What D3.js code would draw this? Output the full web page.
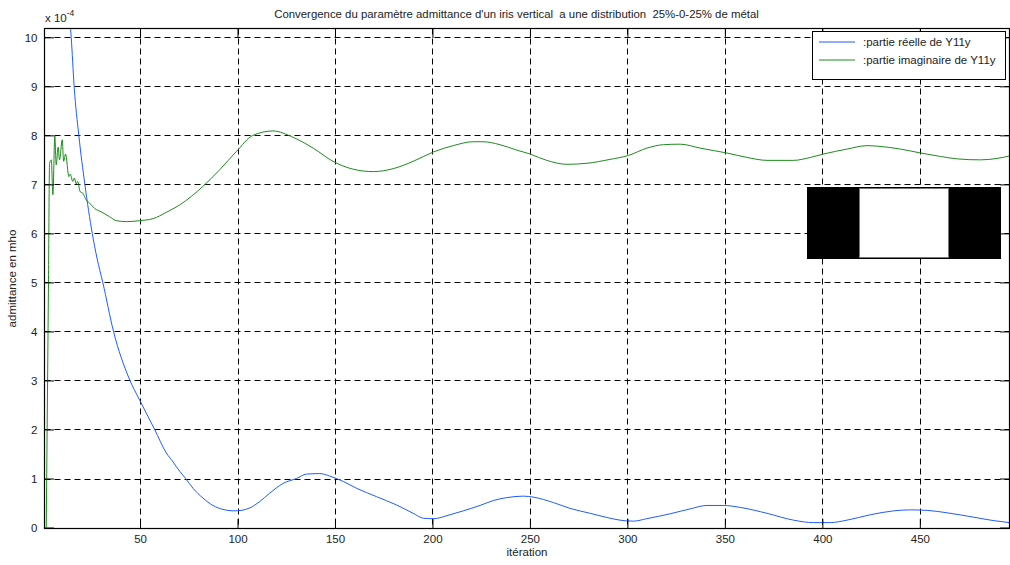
<!DOCTYPE html>
<html>
<head>
<meta charset="utf-8">
<script src="https://cdn.jsdelivr.net/npm/d3@7"></script>
<style>
  html, body { margin: 0; padding: 0; background: #fff; }
  svg { display: block; font-family: "Liberation Sans", Arial, Helvetica, sans-serif; }
</style>
</head>
<body>
<svg id="chart" width="1010" height="565"></svg>
<script>
// Admittance convergence (units of 1e-4 mho) versus iteration
const titleText = "Convergence du paramètre admittance d'un iris vertical  a une distribution  25%-0-25% de métal";
const xLabel = "itération";
const yLabel = "admittance en mho";
const seriesNames = [":partie réelle de Y11y", ":partie imaginaire de Y11y"];
const xTicks = [50, 100, 150, 200, 250, 300, 350, 400, 450];
const yTicks = [0, 1, 2, 3, 4, 5, 6, 7, 8, 9, 10];

// real part
const reIter = [12, 13.5, 14.7, 16.2, 18.6, 21.7, 25.5, 27.9, 30.9, 36.4, 44.3, 49.8, 57.5, 63.5, 66.9, 70.3, 73.4,
  77.2, 82.3, 87.4, 92.5, 97.7, 102, 106.3, 111.4, 116.5, 123.4, 130.2, 135.4, 142.2, 147.3, 154.2, 161.1,
  171.3, 181.6, 190.1, 195.3, 200.4, 209, 215.8, 224.4, 231.2, 238.1, 246.6, 251.7, 262, 270.6, 280.9,
  290, 296.2, 303.1, 309.9, 321.9, 332.2, 340.8, 349.3, 357.9, 371.6, 385.2, 395.5, 404.1, 412.6, 424.6,
  436.6, 445.2, 453.7, 464, 477.7, 488, 496];
const reVal = [11.3, 10.6, 10.0, 9.0, 8.0, 7.0, 6.0, 5.5, 5.0, 4.0, 3.05, 2.6, 2.0, 1.52, 1.34, 1.15, 1.0,
  0.80, 0.60, 0.45, 0.37, 0.34, 0.35, 0.40, 0.53, 0.70, 0.90, 1.00, 1.09, 1.10, 1.05, 0.94, 0.80,
  0.63, 0.46, 0.29, 0.19, 0.18, 0.26, 0.34, 0.45, 0.55, 0.61, 0.64, 0.62, 0.51, 0.39, 0.29,
  0.20, 0.15, 0.13, 0.18, 0.28, 0.38, 0.45, 0.45, 0.41, 0.29, 0.15, 0.10, 0.10, 0.15, 0.26,
  0.34, 0.36, 0.35, 0.30, 0.21, 0.14, 0.10];

// imaginary part
const imIter = [1.9, 3.0, 3.6, 4.5, 5.3, 6.3, 7.0, 8.0, 8.7, 10.1, 10.8, 11.8, 13.5, 14.2, 15.5, 16.3, 17.3, 18.0,
  19.3, 20.7, 22.4, 24.1, 26.7, 30.1, 34.4, 37.8, 43, 49.8, 56.6, 63.5, 70.3, 82.3, 90.9, 99.4, 107.9,
  118.2, 128.5, 138.8, 149, 159.3, 169.6, 179.8, 190.1, 200.4, 210.6, 220.9, 226, 234.6, 243.2, 250,
  258.6, 268.9, 279.2, 291.1, 300.5, 310, 318.5, 327.1, 337.3, 351, 361.3, 371.6, 385.3, 393.8, 400.7,
  412.6, 422.9, 428.1, 440.1, 450.4, 460.6, 469.2, 481.1, 489.7, 496];
const imVal = [0.0, 4.8, 7.43, 7.5, 6.79, 7.99, 7.40, 7.76, 7.50, 7.91, 7.47, 7.62, 7.16, 7.21, 7.06, 7.13, 7.01, 7.06,
  6.85, 6.82, 6.68, 6.62, 6.51, 6.44, 6.34, 6.26, 6.24, 6.26, 6.30, 6.43, 6.58, 6.96, 7.30, 7.67, 8.00,
  8.09, 7.96, 7.74, 7.47, 7.31, 7.26, 7.32, 7.47, 7.66, 7.79, 7.87, 7.87, 7.81, 7.70, 7.62,
  7.49, 7.41, 7.43, 7.51, 7.59, 7.74, 7.81, 7.82, 7.74, 7.64, 7.55, 7.49, 7.49, 7.55, 7.62,
  7.72, 7.79, 7.78, 7.72, 7.64, 7.57, 7.52, 7.50, 7.53, 7.58];

const colors = ["#1f5cff", "#1e8a1e"];

const svg = d3.select("#chart");
const plot = { left: 44.5, right: 1009.5, top: 28.5, bottom: 528.5 };

const x = d3.scaleLinear().domain([1, 496]).range([plot.left, plot.right]);
const y = d3.scaleLinear().domain([-0.02, 10.18]).range([plot.bottom, plot.top]);

svg.append("defs").append("clipPath").attr("id", "plotClip")
  .append("rect")
  .attr("x", plot.left).attr("y", plot.top)
  .attr("width", plot.right - plot.left).attr("height", plot.bottom - plot.top);

// grid
const grid = svg.append("g").attr("stroke", "#000").attr("stroke-width", 1).attr("stroke-dasharray", "6,4");
grid.selectAll(".vg").data(xTicks).join("line")
  .attr("x1", d => Math.round(x(d)) + 0.5).attr("x2", d => Math.round(x(d)) + 0.5)
  .attr("y1", plot.top).attr("y2", plot.bottom);
grid.selectAll(".hg").data(yTicks).join("line")
  .attr("y1", d => Math.round(y(d)) + 0.5).attr("y2", d => Math.round(y(d)) + 0.5)
  .attr("x1", plot.left).attr("x2", plot.right);

// data lines
const lineGen = d3.line().x(d => x(d[0])).y(d => y(d[1])).curve(d3.curveMonotoneX);
const series = [d3.zip(reIter, reVal), d3.zip(imIter, imVal)];
svg.append("g").attr("clip-path", "url(#plotClip)")
  .selectAll("path").data(series).join("path")
  .attr("d", lineGen)
  .attr("fill", "none")
  .attr("stroke", (d, i) => colors[i])
  .attr("stroke-width", 1);

// axes with inward ticks on all four sides
const tickLen = 9.5;
const fmt = d3.format("d");
const xb = svg.append("g").attr("transform", `translate(0,${plot.bottom})`)
  .call(d3.axisBottom(x).tickValues(xTicks).tickFormat(fmt).tickSizeInner(-tickLen).tickSizeOuter(0).tickPadding(6));
const xt = svg.append("g").attr("transform", `translate(0,${plot.top})`)
  .call(d3.axisTop(x).tickValues(xTicks).tickFormat("").tickSizeInner(-tickLen).tickSizeOuter(0));
const yl = svg.append("g").attr("transform", `translate(${plot.left},0)`)
  .call(d3.axisLeft(y).tickValues(yTicks).tickFormat(fmt).tickSizeInner(-tickLen).tickSizeOuter(0).tickPadding(7));
const yr = svg.append("g").attr("transform", `translate(${plot.right},0)`)
  .call(d3.axisRight(y).tickValues(yTicks).tickFormat("").tickSizeInner(-tickLen).tickSizeOuter(0));
[xb, xt, yl, yr].forEach(g => {
  g.select(".domain").remove();
  g.selectAll(".tick line").attr("stroke", "#000");
  g.selectAll("text").attr("fill", "#222").attr("font-size", 11.5)
    .attr("font-family", "'Liberation Sans', Arial, sans-serif");
});
svg.append("rect")
  .attr("x", plot.left).attr("y", plot.top)
  .attr("width", plot.right - plot.left).attr("height", plot.bottom - plot.top)
  .attr("fill", "none").attr("stroke", "#000").attr("stroke-width", 1.2);

// exponent label
const expo = svg.append("text").attr("x", 45).attr("y", 22).attr("font-size", 11.5).attr("fill", "#222");
expo.append("tspan").text("x 10");
expo.append("tspan").attr("dy", -6).attr("font-size", 8.5).text("-4");

// title and axis labels
svg.append("text").attr("x", 516.5).attr("y", 18).attr("text-anchor", "middle")
  .attr("font-size", 11.4).attr("fill", "#222").style("white-space", "pre").text(titleText);
svg.append("text").attr("x", 527).attr("y", 556).attr("text-anchor", "middle")
  .attr("font-size", 11.5).attr("fill", "#222").text(xLabel);
svg.append("text").attr("transform", `translate(16,${(plot.top + plot.bottom) / 2}) rotate(-90)`)
  .attr("text-anchor", "middle").attr("font-size", 11.5).attr("fill", "#222").text(yLabel);

// legend
const lg = svg.append("g");
lg.append("rect").attr("x", 812.5).attr("y", 31.5).attr("width", 193).attr("height", 48)
  .attr("fill", "#fff").attr("stroke", "#000").attr("stroke-width", 1);
seriesNames.forEach((name, i) => {
  const yy = 42 + i * 18;
  lg.append("line").attr("x1", 819).attr("x2", 855).attr("y1", yy).attr("y2", yy)
    .attr("stroke", colors[i]).attr("stroke-width", 1);
  lg.append("text").attr("x", 863).attr("y", yy + 4).attr("font-size", 11.5).attr("fill", "#222").text(name);
});

// iris cross-section: metal | aperture | metal
const iris = svg.append("g");
iris.append("rect").attr("x", 807).attr("y", 187).attr("width", 194).attr("height", 72).attr("fill", "#000");
iris.append("rect").attr("x", 859.5).attr("y", 188.5).attr("width", 89).attr("height", 69)
  .attr("fill", "#fff").attr("stroke", "#777").attr("stroke-width", 1);
</script>
</body>
</html>
